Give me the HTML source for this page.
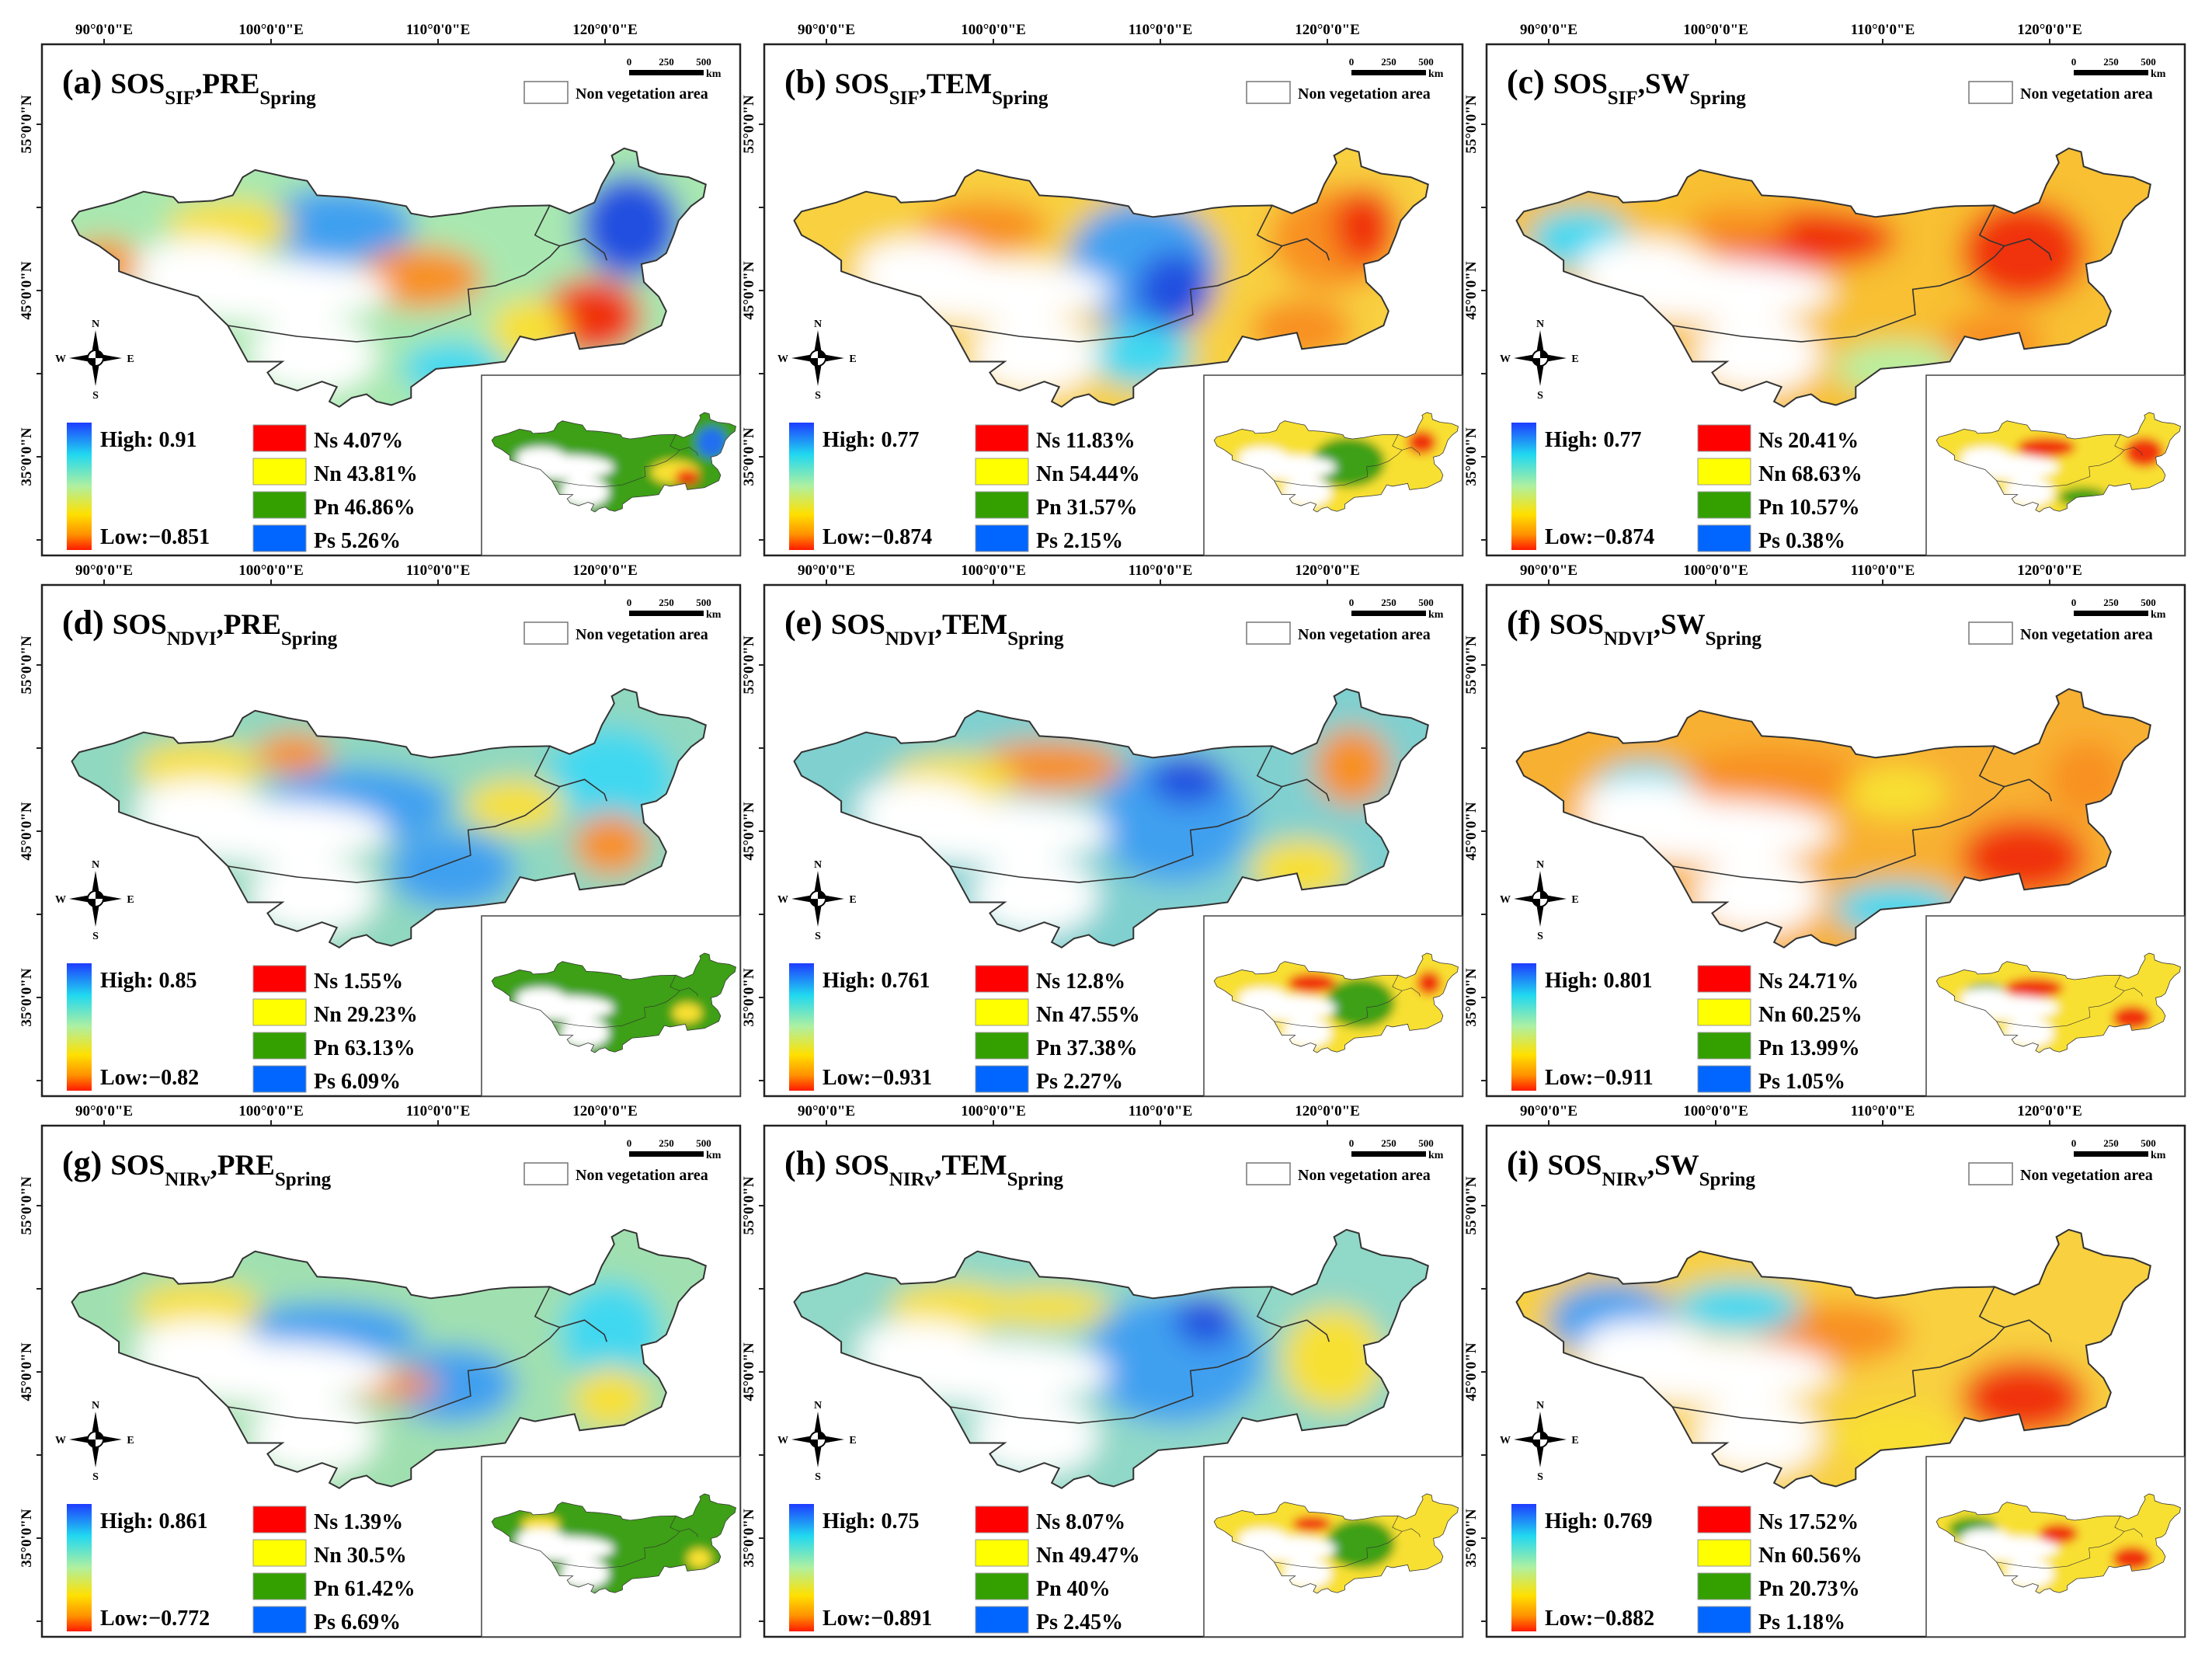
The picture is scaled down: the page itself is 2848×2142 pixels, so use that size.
<!DOCTYPE html>
<html><head><meta charset="utf-8">
<style>
html,body{margin:0;padding:0;background:#fff;}
svg{display:block;}
text{font-family:"Liberation Serif",serif;font-weight:bold;fill:#000;}
</style></head>
<body>
<svg id="fig" width="2848" height="2142" viewBox="0 0 2848 2142" xmlns="http://www.w3.org/2000/svg">
<defs>
<clipPath id="mapclip"><path id="clipPathShape" d=""/></clipPath>
<filter id="blurMain" x="-20%" y="-20%" width="140%" height="140%"><feGaussianBlur stdDeviation="18"/></filter>
<filter id="blurInset" x="-20%" y="-20%" width="140%" height="140%"><feGaussianBlur stdDeviation="16"/></filter>
<linearGradient id="cbar" x1="0" y1="0" x2="0" y2="1">
<stop offset="0" stop-color="#1e3cff"/><stop offset="0.25" stop-color="#20d8f0"/>
<stop offset="0.5" stop-color="#b0f0a0"/><stop offset="0.72" stop-color="#ffe000"/>
<stop offset="0.88" stop-color="#ff9000"/><stop offset="1" stop-color="#ff1a00"/>
</linearGradient>
</defs>
</svg>
<script>
// ---- data ----
const panelLetters = ['a','b','c','d','e','f','g','h','i'];
const indexNames = ['SIF','SIF','SIF','NDVI','NDVI','NDVI','NIRv','NIRv','NIRv'];
const factorNames = ['PRE','TEM','SW','PRE','TEM','SW','PRE','TEM','SW'];
const highValues = ['0.91','0.77','0.77','0.85','0.761','0.801','0.861','0.75','0.769'];
const lowValues = ['\u22120.851','\u22120.874','\u22120.874','\u22120.82','\u22120.931','\u22120.911','\u22120.772','\u22120.891','\u22120.882'];
const nsValues = [4.07,11.83,20.41,1.55,12.8,24.71,1.39,8.07,17.52];
const nnValues = [43.81,54.44,68.63,29.23,47.55,60.25,30.5,49.47,60.56];
const pnValues = [46.86,31.57,10.57,63.13,37.38,13.99,61.42,40,20.73];
const psValues = [5.26,2.15,0.38,6.09,2.27,1.05,6.69,2.45,1.18];
const lonTicks = ['90°0\'0"E','100°0\'0"E','110°0\'0"E','120°0\'0"E'];
const latTicks = ['55°0\'0"N','45°0\'0"N','35°0\'0"N'];

const R='#f03010',O='#f89020',Y='#f8e030',LG='#b8f0a0',C='#40d8f0',LB='#40a0f0',B='#2050e0',G='#3ca018',W='#ffffff';
const mainBase = ['#a8e8b0','#f8d040','#f8c030','#90d8c0','#80d0d0','#f8b030','#a0e0b0','#90d8c8','#f8d040'];
const mainBlobs = [
 [[0.05,0.45,0.06,0.1,O],[0.42,0.3,0.12,0.15,LB],[0.55,0.5,0.1,0.12,O],[0.88,0.3,0.08,0.2,B],[0.82,0.65,0.08,0.15,R],[0.72,0.7,0.06,0.12,Y],[0.6,0.85,0.08,0.1,C],[0.25,0.3,0.1,0.1,Y]],
 [[0.55,0.45,0.12,0.25,LB],[0.6,0.55,0.06,0.15,B],[0.85,0.35,0.1,0.2,O],[0.9,0.3,0.05,0.15,R],[0.3,0.3,0.1,0.1,O],[0.55,0.8,0.08,0.12,C],[0.8,0.7,0.08,0.12,O]],
 [[0.45,0.35,0.15,0.12,R],[0.8,0.4,0.1,0.2,R],[0.75,0.75,0.08,0.12,O],[0.1,0.35,0.08,0.12,C],[0.6,0.85,0.1,0.1,LG],[0.35,0.3,0.08,0.08,O]],
 [[0.45,0.45,0.15,0.15,LB],[0.6,0.7,0.1,0.15,LB],[0.85,0.35,0.1,0.2,C],[0.85,0.6,0.06,0.12,O],[0.2,0.3,0.1,0.1,Y],[0.35,0.25,0.06,0.08,O],[0.7,0.45,0.08,0.1,Y]],
 [[0.6,0.5,0.12,0.25,LB],[0.62,0.35,0.06,0.1,B],[0.4,0.3,0.12,0.1,O],[0.88,0.3,0.06,0.15,O],[0.25,0.35,0.1,0.1,Y],[0.8,0.7,0.08,0.12,Y]],
 [[0.4,0.35,0.15,0.12,O],[0.8,0.65,0.1,0.15,R],[0.2,0.4,0.08,0.12,C],[0.6,0.85,0.1,0.1,C],[0.9,0.35,0.06,0.15,O],[0.6,0.4,0.08,0.1,Y]],
 [[0.4,0.4,0.15,0.12,LB],[0.6,0.6,0.1,0.15,LB],[0.85,0.4,0.08,0.2,C],[0.2,0.3,0.1,0.1,Y],[0.85,0.65,0.06,0.12,Y],[0.5,0.6,0.08,0.06,O]],
 [[0.6,0.5,0.14,0.25,LB],[0.65,0.35,0.05,0.1,B],[0.85,0.5,0.08,0.2,Y],[0.25,0.3,0.1,0.1,Y],[0.4,0.3,0.1,0.08,Y]],
 [[0.15,0.35,0.1,0.15,LB],[0.5,0.4,0.12,0.12,O],[0.8,0.65,0.1,0.15,R],[0.6,0.8,0.1,0.12,Y],[0.35,0.3,0.1,0.1,C]]
];
const insetBase = [G,Y,Y,G,Y,Y,G,Y,Y];
const insetBlobs = [
 [[0.9,0.3,0.06,0.15,'#2070f0'],[0.75,0.6,0.1,0.12,Y],[0.8,0.65,0.05,0.08,R]],
 [[0.55,0.5,0.15,0.25,G],[0.85,0.3,0.06,0.12,R]],
 [[0.45,0.35,0.12,0.1,R],[0.85,0.4,0.08,0.15,R],[0.6,0.85,0.1,0.1,G]],
 [[0.8,0.6,0.06,0.1,Y]],
 [[0.6,0.5,0.14,0.25,G],[0.4,0.3,0.1,0.1,R],[0.88,0.3,0.05,0.12,R]],
 [[0.4,0.35,0.12,0.1,R],[0.8,0.65,0.08,0.12,R],[0.2,0.4,0.08,0.1,G]],
 [[0.2,0.3,0.08,0.08,Y],[0.85,0.65,0.05,0.1,Y]],
 [[0.6,0.5,0.14,0.25,G],[0.4,0.3,0.08,0.08,R]],
 [[0.15,0.35,0.1,0.12,G],[0.8,0.65,0.08,0.12,R],[0.5,0.4,0.08,0.1,R]]
];
const whiteBlobs = [[0.3,0.55,0.2,0.12,W],[0.38,0.8,0.1,0.15,W],[0.2,0.45,0.1,0.1,W]];

const outlineRaw = [[145,610],[160,585],[230,560],[290,530],[350,545],[360,560],[430,555],[470,540],[490,490],[515,470],[580,490],[620,500],[640,540],[700,545],[760,555],[820,570],[830,590],[870,600],[930,590],[990,575],[1030,570],[1110,568],[1150,590],[1200,560],[1215,510],[1240,450],[1235,430],[1260,410],[1285,420],[1290,460],[1330,480],[1390,490],[1425,510],[1420,545],[1395,570],[1370,610],[1360,650],[1345,700],[1325,720],[1295,730],[1300,780],[1330,820],[1345,860],[1335,900],[1290,930],[1260,950],[1200,960],[1170,965],[1160,920],[1080,940],[1050,930],[1020,1000],[960,1010],[880,1020],[830,1070],[830,1100],[790,1120],[760,1110],[740,1090],[710,1100],[685,1125],[665,1110],[680,1070],[650,1055],[600,1080],[555,1060],[540,1030],[570,1000],[500,1000],[460,900],[400,820],[300,780],[240,750],[240,720],[200,680],[160,650]];
const borderRaw = [[460,900],[600,930],[720,945],[830,930],[950,870],[945,800],[1000,790],[1060,760],[1110,710],[1130,680],[1180,660],[1220,700],[1225,720]];
const border2Raw = [[1110,568],[1080,650],[1100,665],[1130,680]];
const tx = p => p[0]/1.568-54, ty = p => p[1]/2.148-57;
const toPath = (arr, close) => arr.map((p,i)=>(i?'L':'M')+tx(p).toFixed(1)+' '+ty(p).toFixed(1)).join(' ')+(close?' Z':'');
const outlineD = toPath(outlineRaw,true);
document.getElementById('clipPathShape').setAttribute('d', outlineD);

const NS='http://www.w3.org/2000/svg';
const svg=document.getElementById('fig');
function mk(tag, attrs, parent){const e=document.createElementNS(NS,tag);for(const k in attrs)e.setAttribute(k,attrs[k]);if(parent)parent.appendChild(e);return e;}
function txt(parent,x,y,size,s,anchor){const t=mk('text',{x:x,y:y,'font-size':size,'text-anchor':anchor||'start'},parent);t.textContent=s;return t;}

const colX=[54,984,1914], rowY=[57,753,1449], PW=899, PH=658;
const bx0=38,by0=134,bw=817,bh=333;
const uX=u=>bx0+u*bw, vY=v=>by0+v*bh;

function drawMap(parent, base, blobs, blur){
  const cg=mk('g',{'clip-path':'url(#mapclip)'},parent);
  const fg=mk('g',{filter:'url(#'+blur+')'},cg);
  mk('rect',{x:bx0-40,y:by0-40,width:bw+80,height:bh+80,fill:base},fg);
  blobs.concat(whiteBlobs).forEach(b=>{
    const e=mk('ellipse',{cx:uX(b[0]),cy:vY(b[1]),rx:b[2]*bw,ry:b[3]*bh,fill:b[4]},fg);
    
    
  });
  mk('path',{d:outlineD,fill:'none',stroke:'#333',"stroke-width":2},parent);
  mk('path',{d:toPath(borderRaw,false),fill:'none',stroke:'#333',"stroke-width":1.6},parent);
  mk('path',{d:toPath(border2Raw,false),fill:'none',stroke:'#333',"stroke-width":1.6},parent);
}

panelLetters.forEach((L,i)=>{
  const px=colX[i%3], py=rowY[Math.floor(i/3)];
  const g=mk('g',{transform:`translate(${px},${py})`},svg);
  
  
  const frame=mk('rect',{x:0,y:0,width:PW,height:PH,fill:'#fff',stroke:'#222','stroke-width':2.5},g);
  
  
  lonTicks.forEach((s,k)=>{
    const x=80+k*215;
    mk('line',{x1:x,y1:0,x2:x,y2:-7,stroke:'#222','stroke-width':2},g);
    const t=txt(g,x,-13,19,s,'middle');
    
    
  });
  for(let k=0;k<6;k++){const y=103+k*107;mk('line',{x1:0,y1:y,x2:-7,y2:y,stroke:'#222','stroke-width':2},g);}
  latTicks.forEach((s,k)=>{
    const y=103+k*214;
    const t=txt(g,0,0,19,s,'middle');
    t.setAttribute('transform',`translate(-14,${y}) rotate(-90)`);
    
    
  });
  const mg=mk('g',{},g);
  
  
  drawMap(mg, mainBase[i], mainBlobs[i], 'blurMain');
  const t=mk('text',{x:26,y:63,'font-size':44},g);
  
  
  const parts=[['('+L+') ',44,0],['SOS',37,0],[indexNames[i],25,14],[',',37,-14],[factorNames[i],37,0],['Spring',25,14]];
  parts.forEach(p=>{const ts=mk('tspan',{'font-size':p[1],dy:p[2]},t);ts.textContent=p[0];});
  txt(g,756,27,13,'0','middle');txt(g,804,27,13,'250','middle');txt(g,852,27,13,'500','middle');
  const sb=mk('rect',{x:756,y:33,width:96,height:7,fill:'#000'},g);
  
  
  txt(g,855,42,14,'km');
  const nb=mk('rect',{x:621,y:48,width:56,height:28,fill:'#fff',stroke:'#777','stroke-width':1.5},g);
  
  
  txt(g,687,70,20,'Non vegetation area');
  const cp=mk('g',{transform:'translate(69,404)'},g);
  
  
  mk('polygon',{points:'0,-36 5,-6 0,0 -5,-6',fill:'#000'},cp);
  mk('polygon',{points:'0,36 5,6 0,0 -5,6',fill:'#000'},cp);
  mk('polygon',{points:'-34,0 -6,-5 0,0 -6,5',fill:'#000'},cp);
  mk('polygon',{points:'34,0 6,-5 0,0 6,5',fill:'#000'},cp);
  mk('circle',{cx:0,cy:0,r:10,fill:'#fff',stroke:'#000','stroke-width':2},cp);
  mk('path',{d:'M0 -10 A10 10 0 0 1 10 0 L0 0 Z M0 10 A10 10 0 0 1 -10 0 L0 0 Z',fill:'#000'},cp);
  txt(cp,0,-40,14,'N','middle');txt(cp,0,52,14,'S','middle');
  txt(cp,-45,5,14,'W','middle');txt(cp,45,5,14,'E','middle');
  const cb=mk('rect',{x:32,y:487,width:32,height:164,fill:'url(#cbar)'},g);
  
  
  txt(g,75,518,28,'High: '+highValues[i]);
  txt(g,75,643,28,'Low:'+lowValues[i]);
  const cats=[['Ns',nsValues[i],'#ff0000'],['Nn',nnValues[i],'#ffff00'],['Pn',pnValues[i],'#33a000'],['Ps',psValues[i],'#0066ff']];
  cats.forEach((c,k)=>{
    const y=490+k*43;
    const r=mk('rect',{x:272,y:y,width:68,height:34,fill:c[2],stroke:'#999','stroke-width':1},g);
    
    
    const lt=txt(g,350,y+29,28,c[0]+' '+c[1]+'%');
    
    
  });
  const ib=mk('rect',{x:566,y:426,width:333,height:232,fill:'#fff',stroke:'#444','stroke-width':1.5},g);
  
  
  const ig=mk('g',{transform:'translate(564.4,422.4) scale(0.385)'},g);
  
  
  drawMap(ig, insetBase[i], insetBlobs[i], 'blurInset');
});
</script>
</body></html>
